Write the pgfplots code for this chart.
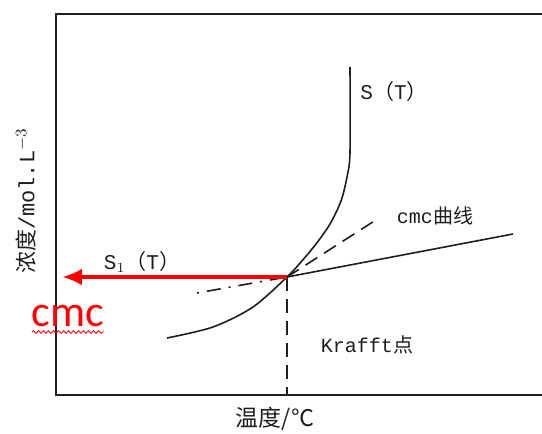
\documentclass[border=0pt]{standalone}
\usepackage{pgfplots}
\pgfplotsset{compat=1.18}
\usepackage{fontspec}
\setmainfont{Liberation Mono}
\newfontfamily\cjk{Noto Sans CJK SC}
\newfontfamily\calib{Carlito}
\usetikzlibrary{arrows.meta,decorations.pathmorphing}
\definecolor{ink}{RGB}{30,30,30}
\begin{document}
\begin{tikzpicture}[x=0.5pt,y=0.5pt]
\useasboundingbox (0,0) rectangle (542,434);
\clip (0,0) rectangle (542,434);
\begin{axis}[
  at={(56,39)}, anchor=south west,
  scale only axis, width=272pt, height=190.5pt,
  xmin=56, xmax=600, ymin=39, ymax=420,
  xtick=\empty, ytick=\empty,
  axis line style={ink, line width=1pt},
  clip=false,
]
% S(T)
\addplot[ink, line width=0.8pt, smooth, tension=0.5] coordinates {
 (167,96) (213,107) (253,127) (287,157) (301,172) (316,190) (330,210) (341,233) (347,257) (350,282) (350,367)};
% solid line above Krafft point
\addplot[ink, line width=0.8pt] coordinates {(287,157) (513,200)};
% cmc curve (dashed)
\addplot[ink, line width=0.8pt, dash pattern=on 1pt off 4pt on 7pt off 4pt] coordinates {(197,141) (287,157)};
\addplot[ink, line width=0.8pt, dash pattern=on 7pt off 4pt] coordinates {(287,157) (379,216)};
% vertical dashed line (Krafft)
\addplot[ink, line width=0.8pt, dash pattern=on 7pt off 4pt] coordinates {(287,157) (287,39)};
% red arrow
\addplot[red, line width=2pt, -{Latex[length=10pt,width=8.5pt]}] coordinates {(287,157) (62,157)};
% red wavy underline
\addplot[red, line width=0.4pt, decorate, decoration={snake, amplitude=0.7pt, segment length=2.5pt}] coordinates {(32,102) (104,102)};
% labels
\node[ink, font=\fontsize{10.5}{12}\selectfont] at (axis cs:394,342) {S{\cjk （}T{\cjk ）}};
\node[ink, font=\fontsize{10.5}{12}\selectfont] at (axis cs:142,172) {S$_1${\cjk （}T{\cjk ）}};
\node[ink, font=\fontsize{10}{12}\selectfont] at (axis cs:435,218) {cmc{\cjk 曲线}};
\node[ink, font=\fontsize{10}{12}\selectfont] at (axis cs:367,89) {Krafft{\cjk 点}};
\node[red, font=\calib\fontsize{22}{24}\selectfont] at (axis cs:68,118) {cmc};
\node[ink, rotate=90, font=\fontsize{11}{13}\selectfont] at (axis cs:26,233) {{\cjk 浓度}/mol.L$^{-3}$};
\node[ink, font=\cjk\fontsize{11.5}{13}\selectfont] at (axis cs:275,15) {温度/℃};
\end{axis}
\end{tikzpicture}
\end{document}
